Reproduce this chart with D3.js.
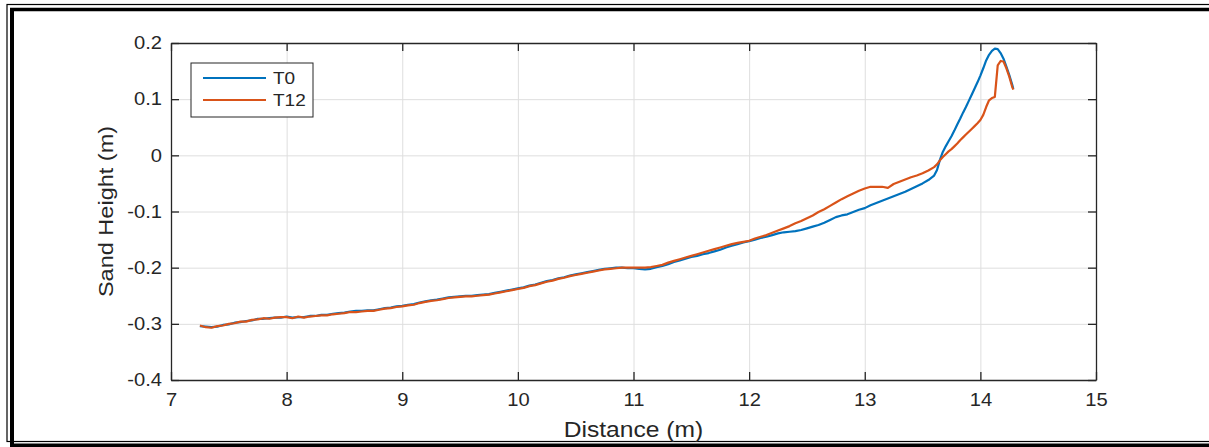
<!DOCTYPE html>
<html>
<head>
<meta charset="utf-8">
<script src="https://cdn.jsdelivr.net/npm/d3@7"></script>
<style>
  body { margin: 0; background: #fff; }
  text { font-family: "Liberation Sans", Arial, Helvetica, sans-serif; fill: #262626; }
  .grid line { stroke: #dedede; stroke-width: 1; }
  .grid path { display: none; }
  .axis path, .axis line { stroke: #262626; stroke-width: 1.3; }
  .axis text { font-size: 18px; fill: #262626; }
</style>
</head>
<body>
<div id="chart"></div>
<script>
// distance along the flume (m)
const distance = [
  7.25,7.30,7.35,7.40,7.45,7.50,7.55,7.60,7.65,7.70,7.75,7.80,7.85,7.90,7.95,
  8.00,8.05,8.10,8.15,8.20,8.25,8.30,8.35,8.40,8.45,8.50,8.55,8.60,8.65,8.70,8.75,8.80,8.85,8.90,8.95,
  9.00,9.05,9.10,9.15,9.20,9.25,9.30,9.35,9.40,9.45,9.50,9.55,9.60,9.65,9.70,9.75,9.80,9.85,9.90,9.95,
  10.00,10.05,10.10,10.15,10.20,10.25,10.30,10.35,10.40,10.45,10.50,10.55,10.60,10.65,10.70,10.75,10.80,10.85,10.90,10.95,
  11.00,11.05,11.10,11.15,11.20,11.25,11.30,11.35,11.40,11.45,11.50,11.55,11.60,11.65,11.70,11.75,11.80,11.85,11.90,11.95,
  12.00,12.05,12.10,12.15,12.20,12.25,12.30,12.35,12.40,12.45,12.50,12.55,12.60,12.65,12.70,12.75,12.80,12.85,12.90,12.95,
  13.00,13.05,13.10,13.15,13.20,13.25,13.30,13.35,13.40,13.45,13.50,13.55,13.60,
  13.625,13.650,13.675,13.700,13.725,13.750,13.775,13.800,13.825,13.850,13.875,13.900,13.925,13.950,13.975,
  14.000,14.025,14.050,14.075,14.100,14.125,14.150,14.175,14.200,14.225,14.250,14.275,
  14.285
];

// sand height T0 (m)
const heightT0 = [
  -0.304,-0.305,-0.306,-0.305,-0.302,-0.301,-0.298,-0.297,-0.295,-0.294,-0.291,-0.291,-0.290,-0.289,-0.289,
  -0.287,-0.289,-0.288,-0.288,-0.286,-0.286,-0.284,-0.284,-0.282,-0.281,-0.280,-0.278,-0.277,-0.277,-0.276,-0.276,-0.274,-0.272,-0.271,-0.269,
  -0.268,-0.266,-0.265,-0.262,-0.260,-0.258,-0.257,-0.255,-0.253,-0.252,-0.251,-0.250,-0.250,-0.249,-0.248,-0.247,-0.245,-0.243,-0.241,-0.239,
  -0.237,-0.235,-0.232,-0.230,-0.227,-0.224,-0.222,-0.219,-0.217,-0.214,-0.212,-0.210,-0.208,-0.206,-0.204,-0.202,-0.201,-0.200,-0.200,-0.201,
  -0.201,-0.202,-0.203,-0.202,-0.199,-0.197,-0.194,-0.190,-0.187,-0.184,-0.181,-0.179,-0.176,-0.174,-0.171,-0.168,-0.164,-0.161,-0.158,-0.155,
  -0.153,-0.150,-0.147,-0.145,-0.142,-0.139,-0.137,-0.136,-0.135,-0.133,-0.130,-0.127,-0.124,-0.120,-0.115,-0.110,-0.107,-0.105,-0.101,-0.097,
  -0.094,-0.089,-0.085,-0.081,-0.077,-0.073,-0.069,-0.065,-0.060,-0.055,-0.050,-0.044,-0.036,
  -0.026,-0.008,0.006,0.016,0.025,0.034,0.044,0.055,0.065,0.076,0.086,0.097,0.108,0.119,0.130,
  0.142,0.155,0.169,0.179,0.186,0.190,0.189,0.182,0.172,0.158,0.143,0.126,
  0.118
];

// sand height T12 (m)
const heightT12 = [
  -0.303,-0.306,-0.307,-0.304,-0.303,-0.300,-0.299,-0.296,-0.296,-0.293,-0.292,-0.290,-0.291,-0.289,-0.288,
  -0.288,-0.290,-0.287,-0.289,-0.287,-0.286,-0.285,-0.285,-0.283,-0.282,-0.281,-0.279,-0.279,-0.278,-0.277,-0.277,-0.275,-0.273,-0.272,-0.270,
  -0.269,-0.267,-0.266,-0.263,-0.261,-0.259,-0.258,-0.256,-0.254,-0.253,-0.252,-0.251,-0.251,-0.250,-0.249,-0.248,-0.246,-0.244,-0.242,-0.240,
  -0.238,-0.236,-0.233,-0.231,-0.228,-0.225,-0.223,-0.220,-0.218,-0.215,-0.213,-0.211,-0.209,-0.207,-0.205,-0.203,-0.202,-0.201,-0.200,-0.200,
  -0.200,-0.200,-0.200,-0.199,-0.197,-0.195,-0.191,-0.188,-0.185,-0.182,-0.179,-0.176,-0.173,-0.170,-0.167,-0.164,-0.161,-0.158,-0.156,-0.154,
  -0.152,-0.148,-0.145,-0.142,-0.138,-0.134,-0.130,-0.126,-0.121,-0.117,-0.112,-0.107,-0.101,-0.096,-0.090,-0.084,-0.078,-0.073,-0.068,-0.063,
  -0.059,-0.056,-0.056,-0.056,-0.058,-0.051,-0.047,-0.043,-0.039,-0.036,-0.032,-0.027,-0.021,
  -0.016,-0.009,-0.003,0.002,0.007,0.011,0.016,0.021,0.027,0.032,0.037,0.042,0.047,0.052,0.057,
  0.063,0.072,0.086,0.098,0.102,0.104,0.160,0.168,0.167,0.155,0.140,0.122,
  0.117
];

const xTicks = [7, 8, 9, 10, 11, 12, 13, 14, 15];
const yTicks = [-0.4, -0.3, -0.2, -0.1, 0, 0.1, 0.2];
const seriesNames = ['T0', 'T12'];
const seriesColors = ['#0072BD', '#D95319'];

const svgCanvas = {width: 1209, height: 447};
const chartPadding = {top: 43, right: 113, bottom: 67, left: 171};
const innerWidth = svgCanvas.width - chartPadding.left - chartPadding.right;
const innerHeight = svgCanvas.height - chartPadding.top - chartPadding.bottom;
const textStretch = 'scale(1.12,1)';   // the reference text is a bit wider than Arial

const svg = d3.select('#chart')
    .append('svg')
    .attr('width', svgCanvas.width)
    .attr('height', svgCanvas.height);

// picture frame (double border)
svg.append('rect')
    .attr('x', 7).attr('y', 4.5)
    .attr('width', 1220).attr('height', 437)
    .attr('fill', 'none').attr('stroke', '#000').attr('stroke-width', 1.2);
svg.append('line').attr('x1', 10).attr('x2', 1212).attr('y1', 9.5).attr('y2', 9.5)
    .attr('stroke', '#000').attr('stroke-width', 3.5);
svg.append('line').attr('x1', 12).attr('x2', 12).attr('y1', 8).attr('y2', 450)
    .attr('stroke', '#000').attr('stroke-width', 4);
svg.append('line').attr('x1', 10).attr('x2', 1212).attr('y1', 445.5).attr('y2', 445.5)
    .attr('stroke', '#000').attr('stroke-width', 4);

const xScale = d3.scaleLinear().domain([7, 15]).range([0, innerWidth]);
const yScale = d3.scaleLinear().domain([-0.4, 0.2]).range([innerHeight, 0]);
const fmt = d => String(+d.toFixed(1));

const chartGroup = svg.append('g')
    .attr('transform', `translate(${chartPadding.left}, ${chartPadding.top})`);

// grid
chartGroup.append('g')
    .attr('class', 'grid')
    .attr('transform', `translate(0, ${innerHeight})`)
    .call(d3.axisBottom(xScale).tickValues(xTicks).tickSize(-innerHeight).tickFormat(''))
    .call(g => g.selectAll('text').remove());
chartGroup.append('g')
    .attr('class', 'grid')
    .call(d3.axisLeft(yScale).tickValues(yTicks).tickSize(-innerWidth).tickFormat(''))
    .call(g => g.selectAll('text').remove());

// lines
const lineGen = d3.line()
    .x(d => xScale(d[0]))
    .y(d => yScale(d[1]));

[heightT0, heightT12].forEach((heights, i) => {
    chartGroup.append('path')
        .datum(distance.map((x, j) => [x, heights[j]]))
        .attr('fill', 'none')
        .attr('stroke', seriesColors[i])
        .attr('stroke-width', 2.2)
        .attr('stroke-linejoin', 'round')
        .attr('d', lineGen);
});

// axes (box, inward ticks)
chartGroup.append('g')
    .attr('class', 'axis')
    .attr('transform', `translate(0, ${innerHeight})`)
    .call(d3.axisBottom(xScale).tickValues(xTicks).tickSizeInner(-8).tickSizeOuter(0).tickPadding(13).tickFormat(fmt))
    .call(g => g.selectAll('text').attr('transform', textStretch));
chartGroup.append('g')
    .attr('class', 'axis')
    .call(d3.axisLeft(yScale).tickValues(yTicks).tickSizeInner(-8).tickSizeOuter(0).tickPadding(8).tickFormat(fmt))
    .call(g => g.selectAll('text').attr('transform', textStretch));
chartGroup.append('g')
    .attr('class', 'axis')
    .call(d3.axisTop(xScale).tickValues(xTicks).tickSizeInner(-8).tickSizeOuter(0).tickFormat(''))
    .call(g => g.selectAll('text').remove());
chartGroup.append('g')
    .attr('class', 'axis')
    .attr('transform', `translate(${innerWidth}, 0)`)
    .call(d3.axisRight(yScale).tickValues(yTicks).tickSizeInner(-8).tickSizeOuter(0).tickFormat(''))
    .call(g => g.selectAll('text').remove());

// axis titles
svg.append('text')
    .attr('transform', `translate(${chartPadding.left + innerWidth / 2}, 437) ${textStretch}`)
    .attr('text-anchor', 'middle')
    .attr('font-size', 22)
    .text('Distance (m)');
svg.append('text')
    .attr('transform', `translate(113, ${chartPadding.top + innerHeight / 2}) rotate(-90) ${textStretch}`)
    .attr('text-anchor', 'middle')
    .attr('font-size', 21)
    .text('Sand Height (m)');

// legend
const legend = svg.append('g').attr('transform', 'translate(191, 63)');
legend.append('rect')
    .attr('width', 122).attr('height', 54)
    .attr('fill', '#fff').attr('stroke', '#262626').attr('stroke-width', 1);
seriesNames.forEach((name, i) => {
    const y = 15 + i * 22;
    legend.append('line')
        .attr('x1', 12).attr('x2', 75).attr('y1', y).attr('y2', y)
        .attr('stroke', seriesColors[i]).attr('stroke-width', 2.2);
    legend.append('text')
        .attr('transform', `translate(82, ${y + 6}) ${textStretch}`)
        .attr('font-size', 17)
        .text(name);
});
</script>
</body>
</html>
